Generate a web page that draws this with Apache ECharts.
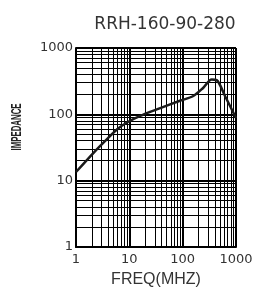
<!DOCTYPE html>
<html>
<head>
<meta charset="utf-8">
<script src="https://cdn.jsdelivr.net/npm/echarts@6/dist/echarts.min.js"></script>
<style>html,body{margin:0;padding:0;background:#fff}#c{width:258px;height:293px}</style>
</head>
<body>
<div id="c"></div>
<script>
const title = "RRH-160-90-280";
const xName = "FREQ(MHZ)";
const yName = "IMPEDANCE";
const freq = [1, 2.2, 3.9, 6, 9.2, 16, 38, 89, 158, 244, 350, 434, 622, 1000];
const impedance = [13.5, 27, 43, 60, 76, 95, 124, 160, 189, 252, 335, 328, 189, 88];
const minorGridValues = [2,3,4,5,6,7,8,9,20,30,40,50,60,70,80,90,200,300,400,500,600,700,800,900];

const chart = echarts.init(document.getElementById('c'), null, {renderer: 'canvas'});
const tickFont = {fontFamily: 'DejaVu Sans', fontSize: 13, color: '#333', formatter: v => String(Math.round(v))};
chart.setOption({
  animation: false,
  title: {
    text: title, left: 160, top: 11, textAlign: 'center',
    textStyle: {fontFamily: 'DejaVu Sans', fontSize: 17, fontWeight: 'normal', color: '#333'}
  },
  graphic: [{
    type: 'text', x: 17, y: 127, rotation: Math.PI / 2, scaleX: 0.56,
    style: {text: yName, align: 'center', verticalAlign: 'middle',
      font: "bold 14px 'Liberation Sans', sans-serif", fill: '#222'}
  }],
  grid: {left: 76, top: 48, width: 160, height: 202, containLabel: false},
  xAxis: {
    type: 'log', logBase: 10, min: 1, max: 1000,
    name: xName, nameLocation: 'middle', nameGap: 25,
    nameTextStyle: {fontFamily: "'Liberation Sans'", fontSize: 16, color: '#333'},
    axisLine: {show: true, lineStyle: {color: '#000', width: 2}},
    axisTick: {show: false},
    axisLabel: Object.assign({margin: 6}, tickFont),
    splitLine: {show: true, lineStyle: {color: '#000', width: 2}}
  },
  yAxis: {
    type: 'log', logBase: 10, min: 1, max: 1000,
    axisLine: {show: true, lineStyle: {color: '#000', width: 2}},
    axisTick: {show: false},
    axisLabel: Object.assign({margin: 3}, tickFont),
    splitLine: {show: true, lineStyle: {color: '#000', width: 2}}
  },
  series: [{
    type: 'line',
    data: freq.map((f, i) => [f, impedance[i]]),
    smooth: 0.3,
    symbol: 'none',
    lineStyle: {color: '#1a1a1a', width: 2.5},
    z: 5,
    markLine: {
      silent: true, symbol: 'none', animation: false,
      label: {show: false},
      lineStyle: {color: '#000', width: 1, type: 'solid'},
      data: minorGridValues.map(v => ({xAxis: v})).concat(minorGridValues.map(v => ({yAxis: v})))
    }
  }]
});
</script>
</body>
</html>
